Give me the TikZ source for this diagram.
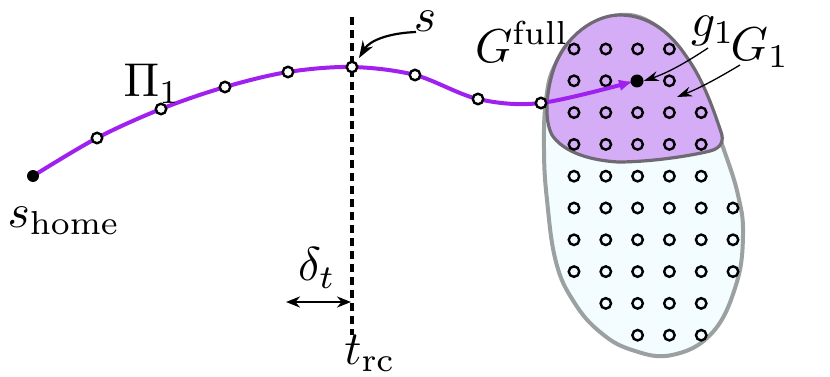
\documentclass[tikz,border=0pt]{standalone}
\usetikzlibrary{arrows.meta}
\definecolor{pathpurple}{RGB}{160,32,240}
\definecolor{gonefill}{RGB}{213,173,246}
\definecolor{gfullfill}{RGB}{243,253,255}
\definecolor{outergray}{RGB}{155,160,160}
\definecolor{innergray}{RGB}{110,105,115}
\tikzset{
  lbl/.style={inner sep=0pt, scale=4.75},
  waypt/.style={circle, draw=black, fill=white, line width=2.4pt, minimum size=10.5pt, inner sep=0pt},
  gridpt/.style={circle, draw=black, line width=2.4pt, minimum size=10.5pt, inner sep=0pt},
  dotpt/.style={circle, fill=black, minimum size=12pt, inner sep=0pt},
  thinarrow/.style={line width=1.3pt, -{Stealth[length=15pt,width=10pt]}},
}
\begin{document}
\begin{tikzpicture}[x=1pt,y=-1pt]
\useasboundingbox (0,0) rectangle (830,377);
% G full region
\draw[draw=outergray, line width=4pt, fill=gfullfill, line join=round]
  plot[smooth cycle, tension=0.7] coordinates {
  (620,15) (578,34) (555,65) (546,100) (544,150) (547,200) (556,262) (574,302)
  (600,332) (632,350) (672,355) (712,333) (736,285) (743,235) (738,195)
  (724,150) (706,102) (686,60) (658,27)};
% G1 region
\draw[draw=innergray, line width=3.2pt, fill=gonefill, line join=round]
  (620,15) .. controls (595,15) and (566,35) .. (554,68)
  .. controls (546,92) and (544,120) .. (552,135)
  .. controls (562,150) and (585,160) .. (618,162)
  .. controls (650,162) and (690,156) .. (710,151)
  .. controls (722,148) and (724,140) .. (721,132)
  .. controls (712,105) and (702,78) .. (686,56)
  .. controls (670,32) and (648,15) .. (620,15) -- cycle;
% grid
\foreach \r/\cols in {0/{0,1,2,3}, 1/{0,1,3}, 2/{0,1,2,3,4}, 3/{0,1,2,3,4}, 4/{0,1,2,3,4},
  5/{0,1,2,3,4,5}, 6/{0,1,2,3,4,5}, 7/{0,1,2,3,4,5}, 8/{1,2,3,4}, 9/{2,3,4}}{
  \foreach \c in \cols {
    \node[gridpt] (gr\r c\c) at ({574+31.8*\c},{49+31.8*\r}) {};
  }
}
% dashed line
\coordinate (dtop) at (352,17);
\coordinate (dbot) at (352,335);
\draw[line width=4pt, dash pattern=on 8pt off 5pt] (dtop) -- (dbot);
% path
\coordinate (p0) at (33,176);
\coordinate (p1) at (97,138);
\coordinate (p2) at (161,109);
\coordinate (p3) at (225,87);
\coordinate (p4) at (288,72);
\coordinate (p5) at (352,67);
\coordinate (p6) at (415,75);
\coordinate (p7) at (478,99);
\coordinate (p8) at (541,103);
\coordinate (p9) at (633,81.5);
\draw[pathpurple, line width=4pt, -{Latex[length=14pt,width=12pt]}]
  plot[smooth, tension=0.55] coordinates {(p0) (p1) (p2) (p3) (p4) (p5) (p6) (p7) (p8) (p9)};
\foreach \i in {1,...,8} { \node[waypt] (w\i) at (p\i) {}; }
\node[dotpt] (shome) at (p0) {};
\node[dotpt, minimum size=13pt] (g1) at (637,81) {};
% labels
\node[lbl] (Lshome) at (64,221) {$s_{\mathrm{home}}$};
\node[lbl] (Lpi) at (152,84) {$\Pi_1$};
\node[lbl] (Ls) at (425,21) {$s$};
\node[lbl] (Ldelta) at (317,268) {$\delta_t$};
\node[lbl] (Ltrc) at (370,353) {$t_{\mathrm{rc}}$};
\node[lbl] (LGfull) at (522,42) {$G^{\mathrm{full}}$};
\node[lbl] (Lg1) at (713,31) {$g_1$};
\node[lbl] (LG1) at (760,48) {$G_1$};
% arrows
\coordinate (sarrS) at (416,32);
\coordinate (sarrE) at (359,58);
\draw[line width=2.2pt, -{Stealth[length=17pt,width=12pt]}] (sarrS) .. controls (390,33) and (370,40) .. (sarrE);
\coordinate (darrL) at (286,302);
\coordinate (darrR) at (351,302);
\draw[line width=2.4pt, {Stealth[length=14pt,width=11pt]}-{Stealth[length=14pt,width=11pt]}] (darrL) -- (darrR);
\coordinate (g1arrS) at (708,48);
\draw[thinarrow] (g1arrS) .. controls (690,60) and (670,72) .. (g1.east);
\coordinate (G1arrS) at (740,65);
\coordinate (G1arrE) at (677,97);
\draw[thinarrow] (G1arrS) .. controls (720,77) and (700,88) .. (G1arrE);
\end{tikzpicture}
\end{document}
